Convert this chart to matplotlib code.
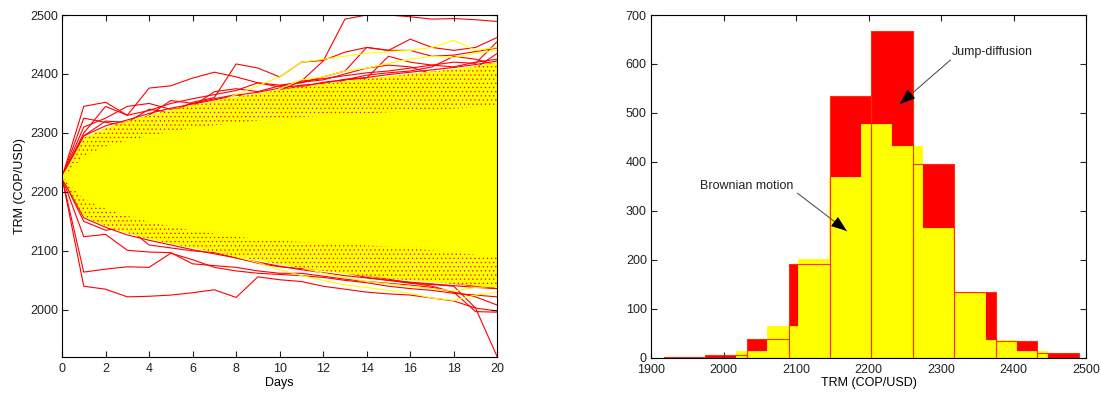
import numpy as np
import matplotlib
matplotlib.use("Agg")
import matplotlib.pyplot as plt

plt.rcParams['font.family'] = ['Liberation Sans', 'DejaVu Sans']
plt.rcParams['font.size'] = 9
plt.rcParams['hatch.linewidth'] = 0.4

# ---- simulated paths (left) ----
days = list(range(21))

# dense part of the Brownian cloud
cloud_inner_hi = [2225, 2262, 2278, 2288, 2296, 2303, 2309, 2314, 2318, 2322, 2325,
                  2328, 2330, 2332, 2334, 2336, 2338, 2340, 2342, 2344, 2346]
cloud_inner_lo = [2225, 2188, 2172, 2160, 2150, 2142, 2135, 2130, 2125, 2121, 2118,
                  2116, 2114, 2112, 2110, 2108, 2105, 2102, 2098, 2094, 2090]
# fringe where jump paths poke through
cloud_outer_hi = [2225, 2292, 2308, 2320, 2330, 2339, 2347, 2354, 2361, 2367, 2373,
                  2378, 2383, 2388, 2392, 2396, 2400, 2404, 2408, 2413, 2420]
cloud_outer_lo = [2225, 2158, 2142, 2130, 2120, 2112, 2105, 2098, 2091, 2084, 2077,
                  2071, 2066, 2061, 2057, 2053, 2050, 2047, 2044, 2041, 2039]

jump_paths = [
    [2225, 2345, 2352, 2330, 2376, 2380, 2393, 2403, 2395, 2385, 2378, 2388, 2392, 2397, 2402, 2405, 2410, 2415, 2412, 2420, 2425],
    [2225, 2295, 2320, 2318, 2340, 2335, 2352, 2360, 2417, 2410, 2395, 2420, 2423, 2437, 2445, 2440, 2440, 2430, 2432, 2438, 2444],
    [2225, 2270, 2290, 2300, 2315, 2328, 2335, 2345, 2350, 2360, 2372, 2388, 2422, 2493, 2500, 2500, 2497, 2493, 2494, 2492, 2489],
    [2225, 2310, 2325, 2345, 2350, 2340, 2345, 2370, 2375, 2370, 2380, 2385, 2395, 2405, 2445, 2440, 2459, 2445, 2440, 2445, 2462],
    [2225, 2325, 2318, 2312, 2330, 2355, 2350, 2358, 2365, 2355, 2372, 2380, 2376, 2390, 2393, 2430, 2420, 2415, 2420, 2418, 2455],
    [2225, 2300, 2345, 2330, 2338, 2350, 2358, 2365, 2372, 2385, 2381, 2386, 2390, 2400, 2410, 2415, 2412, 2400, 2405, 2410, 2435],
    [2225, 2285, 2300, 2312, 2325, 2333, 2338, 2348, 2356, 2362, 2368, 2378, 2386, 2390, 2398, 2402, 2405, 2412, 2430, 2425, 2415],
    [2225, 2295, 2312, 2322, 2333, 2342, 2349, 2356, 2364, 2369, 2376, 2381, 2384, 2391, 2394, 2399, 2403, 2407, 2411, 2416, 2422],
    [2225, 2288, 2306, 2318, 2328, 2336, 2344, 2352, 2358, 2365, 2370, 2376, 2380, 2386, 2390, 2394, 2398, 2403, 2406, 2410, 2418],
    [2225, 2040, 2035, 2022, 2023, 2025, 2029, 2034, 2021, 2056, 2051, 2048, 2040, 2035, 2030, 2027, 2025, 2020, 2015, 2003, 1998],
    [2225, 2064, 2069, 2073, 2072, 2096, 2085, 2072, 2066, 2062, 2060, 2058, 2055, 2050, 2046, 2040, 2036, 2033, 2028, 2025, 2022],
    [2225, 2124, 2128, 2101, 2098, 2097, 2078, 2075, 2072, 2066, 2062, 2062, 2057, 2052, 2048, 2045, 2042, 2038, 2030, 2022, 2008],
    [2225, 2150, 2135, 2140, 2110, 2105, 2100, 2097, 2088, 2079, 2073, 2070, 2068, 2063, 2055, 2050, 2045, 2043, 2040, 2003, 1920],
    [2225, 2160, 2145, 2132, 2125, 2118, 2108, 2102, 2095, 2088, 2082, 2076, 2072, 2065, 2058, 2052, 2046, 2040, 2030, 1997, 1996],
    [2225, 2170, 2155, 2148, 2135, 2128, 2115, 2108, 2100, 2095, 2088, 2083, 2078, 2071, 2066, 2060, 2055, 2050, 2045, 2040, 2036],
    [2225, 2156, 2140, 2127, 2118, 2110, 2102, 2095, 2088, 2081, 2074, 2068, 2063, 2058, 2054, 2050, 2047, 2044, 2041, 2038, 2036],
    [2225, 2162, 2146, 2133, 2123, 2114, 2107, 2100, 2094, 2087, 2080, 2074, 2069, 2064, 2060, 2056, 2052, 2049, 2046, 2043, 2041],
]

brownian_paths = [
    [2225, 2280, 2300, 2310, 2318, 2330, 2340, 2350, 2365, 2380, 2395, 2420, 2425, 2430, 2435, 2438, 2440, 2445, 2457, 2440, 2445],
    [2225, 2275, 2295, 2305, 2315, 2325, 2335, 2342, 2352, 2362, 2375, 2390, 2395, 2405, 2410, 2418, 2425, 2430, 2428, 2435, 2440],
    [2225, 2170, 2155, 2140, 2130, 2118, 2110, 2100, 2090, 2080, 2068, 2058, 2050, 2042, 2038, 2033, 2028, 2020, 2016, 2025, 2030],
    [2225, 2175, 2160, 2148, 2138, 2128, 2118, 2110, 2102, 2092, 2082, 2072, 2062, 2055, 2048, 2044, 2040, 2036, 2032, 2038, 2040],
]

# ---- terminal histograms (right) ----
jump_edges = [1918, 1975, 2032, 2090, 2147, 2204, 2261, 2318, 2376, 2433, 2490]
jump_counts = [2, 6, 39, 191, 534, 667, 395, 134, 34, 10]
bm_edges = [2017, 2060, 2103, 2146, 2189, 2231, 2274, 2317, 2360, 2403, 2446]
bm_counts = [14, 65, 202, 370, 478, 432, 264, 133, 37, 14]

fig = plt.figure(figsize=(11.01, 3.94), dpi=100)
ax1 = fig.add_axes([62 / 1101, 1 - 357 / 394, 435.3 / 1101, 342 / 394])
ax2 = fig.add_axes([651 / 1101, 1 - 357.7 / 394, 435 / 1101, 342.7 / 394])

for p in jump_paths:
    ax1.plot(days, p, color='red', lw=0.8, zorder=1)
for p in brownian_paths:
    ax1.plot(days, p, color='yellow', lw=0.8, zorder=2)
ax1.fill_between(days, cloud_outer_lo, cloud_outer_hi, facecolor='yellow',
                 edgecolor='red', hatch='....', linewidth=0, zorder=3)
ax1.fill_between(days, cloud_inner_lo, cloud_inner_hi, color='yellow',
                 linewidth=0, zorder=4)
ax1.set_xlim(0, 20)
ax1.set_ylim(1920, 2500)
ax1.set_xticks(range(0, 21, 2))
ax1.set_yticks(range(2000, 2501, 100))
ax1.set_xlabel('Days', labelpad=1)
ax1.set_ylabel('TRM (COP/USD)', labelpad=3)

# jump-diffusion bars, Brownian bars, then the jump outlines on top
jw = np.diff(jump_edges)
bw = np.diff(bm_edges)
ax2.bar(jump_edges[:-1], jump_counts, width=jw, align='edge', color='red',
        edgecolor='#ff2020', lw=0.6, zorder=1)
ax2.bar(bm_edges[:-1], bm_counts, width=bw, align='edge', color='yellow',
        edgecolor='yellow', lw=0.6, zorder=2)
ax2.bar(jump_edges[:-1], jump_counts, width=jw, align='edge', fill=False,
        edgecolor='#ff3000', lw=0.8, zorder=3)
ax2.set_xlim(1900, 2500)
ax2.set_ylim(0, 700)
ax2.set_xticks(range(1900, 2501, 100))
ax2.set_yticks(range(0, 701, 100))
ax2.set_xlabel('TRM (COP/USD)', labelpad=1)


def arrow(ax, tail, head, frac=0.15):
    ax.annotate('', xy=head, xytext=tail,
                arrowprops=dict(arrowstyle='-', color='#555555', lw=0.8,
                                shrinkA=0, shrinkB=0), zorder=5)
    near = (head[0] - (head[0] - tail[0]) * frac, head[1] - (head[1] - tail[1]) * frac)
    ax.annotate('', xy=head, xytext=near,
                arrowprops=dict(arrowstyle='-|>,head_length=0.8,head_width=0.3',
                                color='black', lw=0.8, mutation_scale=12,
                                shrinkA=0, shrinkB=0), zorder=6)


ax2.text(2315, 625, 'Jump-diffusion', va='center', ha='left', color='#222222', zorder=6)
arrow(ax2, (2313, 608), (2243, 518))
ax2.text(1968, 351, 'Brownian motion', va='center', ha='left', color='#222222', zorder=6)
arrow(ax2, (2102, 336), (2170, 259))

for ax in (ax1, ax2):
    ax.tick_params(direction='in', length=4, width=0.8, top=True, right=True,
                   colors='#222222', pad=3)
    ax.tick_params(axis='x', pad=4.5)
    for s in ax.spines.values():
        s.set_linewidth(0.8)
        s.set_color('black')
        s.set_zorder(10)

fig.savefig('out.png', dpi=100)
